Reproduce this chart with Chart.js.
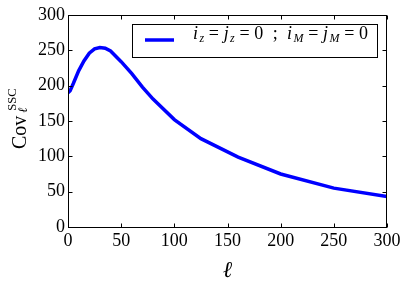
<!DOCTYPE html>
<html>
<head>
<meta charset="utf-8">
<script src="https://cdn.jsdelivr.net/npm/chart.js@4"></script>
<style>
  html, body { margin: 0; padding: 0; background: #fff; }
  canvas { display: block; }
</style>
</head>
<body>
<canvas id="cov-chart" width="407" height="283"></canvas>
<script>
"use strict";

/* --- DATA --- */

const ell = [0, 2, 5, 10, 15, 20, 25, 30, 35, 40, 50, 60, 70, 80, 100, 125, 160, 200, 250, 300];
const cov = [190, 193, 203, 221, 235, 246, 252, 254, 253, 249, 234, 217, 198, 181, 152, 125, 99, 75, 55, 43];

const x_ticks = [0, 50, 100, 150, 200, 250, 300];
const y_ticks = [0, 50, 100, 150, 200, 250, 300];

const serif = '"Liberation Serif", "DejaVu Serif", serif';
const blue = '#0000ff';

/* --- FRAME, TICKS, LABELS, LEGEND --- */

const frame_plugin = {
  id: 'frame',
  afterDatasetsDraw(chart) {
    const ctx = chart.ctx;
    const a = chart.chartArea;
    const xs = chart.scales.x;
    const ys = chart.scales.y;
    const l = Math.round(a.left) + 0.5;
    const r = Math.round(a.right) - 0.5;
    const t = Math.round(a.top) + 0.5;
    const b = Math.round(a.bottom) + 0.5;

    ctx.save();
    ctx.strokeStyle = '#000';
    ctx.lineWidth = 1;
    ctx.strokeRect(l, t, r - l, b - t);

    // inward ticks on all four sides
    ctx.beginPath();
    x_ticks.forEach(v => {
      const px = Math.round(xs.getPixelForValue(v)) + 0.5;
      ctx.moveTo(px, b); ctx.lineTo(px, b - 4);
      ctx.moveTo(px, t); ctx.lineTo(px, t + 4);
    });
    y_ticks.forEach(v => {
      const py = Math.round(ys.getPixelForValue(v)) + 0.5;
      ctx.moveTo(l, py); ctx.lineTo(l + 4, py);
      ctx.moveTo(r, py); ctx.lineTo(r - 4, py);
    });
    ctx.stroke();

    // legend box
    ctx.fillStyle = '#fff';
    ctx.fillRect(132.5, 24.5, 245, 33);
    ctx.strokeRect(132.5, 24.5, 245, 33);
    ctx.strokeStyle = blue;
    ctx.lineWidth = 3.5;
    ctx.beginPath();
    ctx.moveTo(145, 40);
    ctx.lineTo(174, 40);
    ctx.stroke();

    // legend text: i_z = j_z = 0 ; i_M = j_M = 0
    const main = '18px ' + serif;
    const it = 'italic 18px ' + serif;
    const sub = 'italic 12px ' + serif;
    const parts = [
      ['i', it, 0, 0], ['z', sub, 3, 0.3], ['=', main, 0, 1], ['j', it, 0, 1],
      ['z', sub, 3, 0.3], ['=', main, 0, 1], ['0', main, 0, 1], [';', main, 0, 2],
      ['i', it, 0, 2], ['M', sub, 3, 0.3], ['=', main, 0, 1], ['j', it, 0, 1],
      ['M', sub, 3, 0.3], ['=', main, 0, 1], ['0', main, 0, 1]
    ];
    ctx.fillStyle = '#000';
    ctx.textBaseline = 'alphabetic';
    ctx.textAlign = 'left';
    let natural = 0;
    let gaps = 0;
    parts.forEach(p => { ctx.font = p[1]; natural += ctx.measureText(p[0]).width; gaps += p[3]; });
    const stretch = gaps > 0 ? (175 - natural) / gaps : 0;
    let cx = 193;
    parts.forEach(p => {
      ctx.font = p[1];
      cx += p[3] * stretch;
      ctx.fillText(p[0], cx, 38.5 + p[2]);
      cx += ctx.measureText(p[0]).width;
    });

    // x axis title
    ctx.font = 'italic 23px ' + serif;
    ctx.textAlign = 'center';
    ctx.fillText('\u2113', (a.left + a.right) / 2, 277);

    // y axis title, rotated
    ctx.translate(25.5, 149);
    ctx.rotate(-Math.PI / 2);
    ctx.textAlign = 'left';
    ctx.font = '20px ' + serif;
    ctx.fillText('Cov', 0, 0);
    const w = ctx.measureText('Cov').width;
    ctx.font = '12.5px ' + serif;
    ctx.fillText('SSC', w + 5, -10);
    ctx.font = 'italic 13px ' + serif;
    ctx.fillText('\u2113', w + 3, 1.5);
    ctx.restore();
  }
};

/* --- CHART --- */

const cov_canvas = document.getElementById('cov-chart');

let cov_chart = new Chart(cov_canvas, {
  type: 'line',
  data: {
    datasets: [{
      label: 'i_z = j_z = 0 ; i_M = j_M = 0',
      data: ell.map((l, i) => ({ x: l, y: cov[i] })),
      borderColor: blue,
      borderWidth: 3.5,
      pointRadius: 0,
      tension: 0,
      fill: false
    }]
  },
  options: {
    responsive: false,
    animation: false,
    layout: {
      padding: { left: 0, right: 20, top: 15, bottom: 0 }
    },
    plugins: {
      legend: { display: false },
      tooltip: { enabled: false }
    },
    scales: {
      x: {
        type: 'linear',
        min: 0,
        max: 300,
        afterBuildTicks(s) { s.ticks = x_ticks.map(v => ({ value: v })); },
        afterFit(s) { s.height = 56; },
        ticks: { color: '#000', font: { family: serif, size: 18 }, padding: 3, maxRotation: 0 },
        grid: { display: false, drawTicks: false },
        border: { display: false }
      },
      y: {
        type: 'linear',
        min: 0,
        max: 300,
        afterBuildTicks(s) { s.ticks = y_ticks.map(v => ({ value: v })); },
        afterFit(s) { s.width = 68; },
        ticks: { color: '#000', font: { family: serif, size: 18 }, padding: 3 },
        grid: { display: false, drawTicks: false },
        border: { display: false }
      }
    }
  },
  plugins: [frame_plugin]
});
</script>
</body>
</html>
